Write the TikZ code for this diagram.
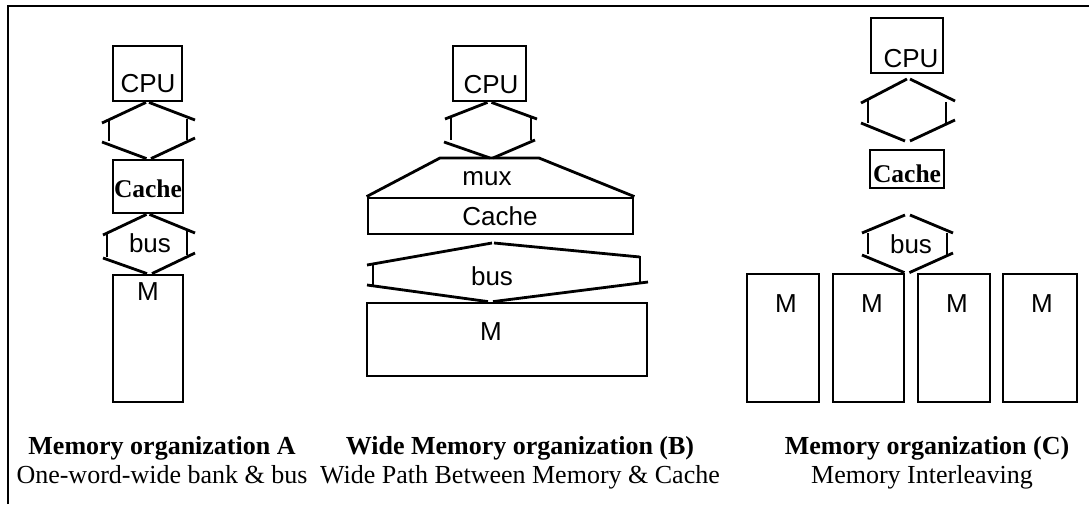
\documentclass[tikz,border=0pt]{standalone}
\usepackage{fontspec}
\setmainfont{Liberation Serif}
\newfontfamily\labelfont{Liberation Sans}
\begin{document}
\begin{tikzpicture}[x=1pt,y=-1pt,
  unit/.style={draw, line width=2.8pt, inner sep=0pt},
  wire/.style={line width=2.8pt},
  lbl/.style={font=\labelfont\fontsize{26}{30}\selectfont, inner sep=0pt, anchor=base},
  blbl/.style={font=\bfseries\fontsize{25.5}{28}\selectfont, inner sep=0pt, anchor=base},
  capb/.style={font=\bfseries\fontsize{26}{26}\selectfont, inner sep=0pt, anchor=base},
  capn/.style={font=\fontsize{26}{26}\selectfont, inner sep=0pt, anchor=base}]
\useasboundingbox (0,0) rectangle (1089,504);

% frame
\draw[wire] (8,504) -- (8,6) -- (1089,6);

% ---------- organization A ----------
\node[unit, minimum width=69pt, minimum height=55pt] (cpuA) at (147.5,73.5) {};
\node[unit, minimum width=70pt, minimum height=53pt] (cacheA) at (148,186.5) {};
\node[unit, minimum width=70pt, minimum height=127pt] (memA) at (148,338.5) {};
\node[lbl] (cpuAt) at (148,92) {CPU};
\node[blbl] (cacheAt) at (148,197) {Cache};
\node[lbl] (busAt) at (150,252) {bus};
\node[lbl] (memAt) at (148,300) {M};
% CPU <-> cache link
\draw[wire] ([xshift=-1.5pt]cpuA.south) -- (102,123);
\draw[wire] ([xshift=1.5pt]cpuA.south) -- (195,120);
\draw[wire] (109,120) -- (109,141);
\draw[wire] (187,119) -- (187,140);
\draw[wire] (102,142) -- ([xshift=-1.5pt]cacheA.north);
\draw[wire] (195,138) -- ([xshift=3pt]cacheA.north);
% cache <-> memory bus
\draw[wire] ([xshift=-1.5pt]cacheA.south) -- (103,235);
\draw[wire] ([xshift=1.5pt]cacheA.south) -- (195,233);
\draw[wire] (107,232) -- (107,257);
\draw[wire] (187,230) -- (187,255);
\draw[wire] (103,258) -- ([xshift=-1pt]memA.north);
\draw[wire] (195,253) -- ([xshift=4pt]memA.north);

% ---------- organization B ----------
\node[unit, minimum width=73pt, minimum height=55pt] (cpuB) at (489.5,73.5) {};
\node[unit, minimum width=265pt, minimum height=36pt] (cacheB) at (500.5,216) {};
\node[unit, minimum width=280pt, minimum height=73pt] (memB) at (507,339.5) {};
\node[lbl] (cpuBt) at (491,93) {CPU};
\node[lbl] (muxBt) at (487,185) {mux};
\node[lbl] (cacheBt) at (500,225) {Cache};
\node[lbl] (busBt) at (492,285) {bus};
\node[lbl] (memBt) at (491,340) {M};
% CPU <-> mux link
\coordinate (muxtop) at (491,158);
\draw[wire] ([xshift=-2pt]cpuB.south) -- (445,119);
\draw[wire] ([xshift=2pt]cpuB.south) -- (537,119);
\draw[wire] (451,117) -- (451,140);
\draw[wire] (531,117) -- (531,140);
\draw[wire] (444,142) -- ([xshift=-1pt]muxtop);
\draw[wire] (535,140) -- ([xshift=2pt]muxtop);
% mux
\draw[wire, line join=round] (cacheB.north west) -- (440,158) -- (539,158) -- (cacheB.north east);
% wide bus
\coordinate (busBtop) at (493,243);
\draw[wire] ([xshift=-1pt]busBtop) -- (367,265);
\draw[wire] ([xshift=1pt]busBtop) -- (640,257);
\draw[wire] (373,263) -- (373,285);
\draw[wire] (640,256) -- (640,282);
\draw[wire] (367,285) -- ([xshift=-19pt]memB.north);
\draw[wire] (648,282) -- ([xshift=-14pt]memB.north);

% ---------- organization C ----------
\node[unit, minimum width=72pt, minimum height=55pt] (cpuC) at (907,45.5) {};
\node[unit, minimum width=74pt, minimum height=38pt] (cacheC) at (907,169) {};
\node[unit, minimum width=72pt, minimum height=128pt] (memC1) at (783,338) {};
\node[unit, minimum width=71pt, minimum height=128pt] (memC2) at (868.5,338) {};
\node[unit, minimum width=72pt, minimum height=128pt] (memC3) at (954,338) {};
\node[unit, minimum width=74pt, minimum height=128pt] (memC4) at (1040,338) {};
\node[lbl] (cpuCt) at (911,67) {CPU};
\node[blbl] (cacheCt) at (907,182) {Cache};
\node[lbl] (busCt) at (911,253) {bus};
\node[lbl] (memC1t) at (786,312) {M};
\node[lbl] (memC2t) at (872,312) {M};
\node[lbl] (memC3t) at (957,312) {M};
\node[lbl] (memC4t) at (1042,312) {M};
% CPU <-> cache link
\coordinate (hexCtop) at (908,79);
\coordinate (hexCbot) at (907,141);
\draw[wire] ([xshift=-1pt]hexCtop) -- (861,103);
\draw[wire] ([xshift=2pt]hexCtop) -- (955,101);
\draw[wire] (868,100) -- (868,123);
\draw[wire] (946,102) -- (946,123);
\draw[wire] (861,123) -- ([xshift=-2pt]hexCbot);
\draw[wire] (955,120) -- ([xshift=3pt]hexCbot);
% cache <-> interleaved banks
\coordinate (busCtop) at (907,215);
\draw[wire] ([xshift=-2pt]busCtop) -- (862,233);
\draw[wire] ([xshift=3pt]busCtop) -- (953,233);
\draw[wire] (868,233) -- (868,254);
\draw[wire] (947,233) -- (947,255);
\draw[wire] (862,255) -- ([xshift=-1pt]memC2.north east);
\draw[wire] (953,253) -- ([xshift=4pt]memC2.north east);

% ---------- captions ----------
\node[capb] (capA1) at (162,454) {Memory organization A};
\node[capn] (capA2) at (162,483) {One-word-wide bank \& bus};
\node[capb] (capB1) at (520,454) {Wide Memory organization (B)};
\node[capn] (capB2) at (520,483) {Wide Path Between Memory \& Cache};
\node[capb] (capC1) at (927,454) {Memory organization (C)};
\node[capn] (capC2) at (922,483) {Memory Interleaving};
\end{tikzpicture}
\end{document}
